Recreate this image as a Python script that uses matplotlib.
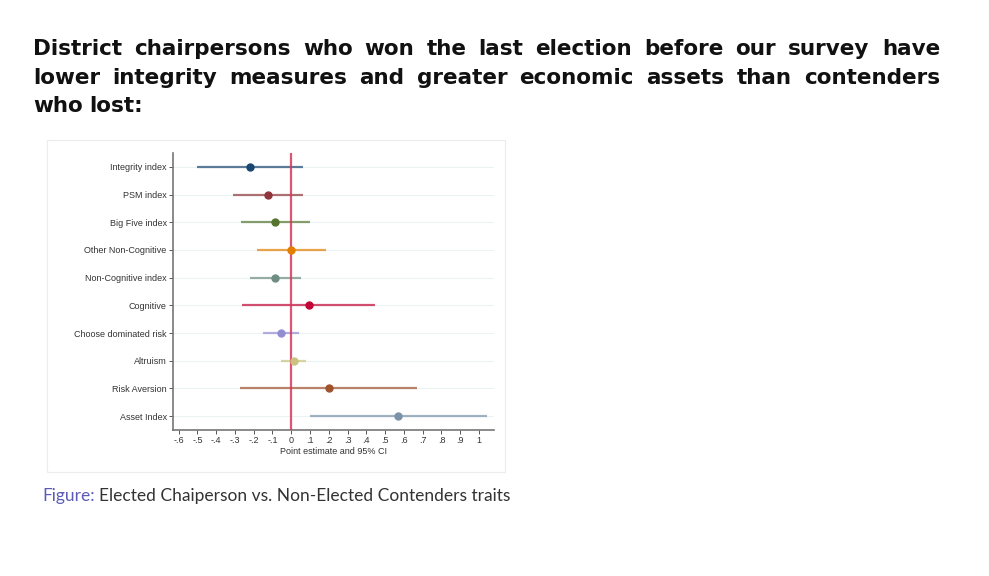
import matplotlib

matplotlib.use("Agg")
import matplotlib.pyplot as plt
from matplotlib.patches import Rectangle

# --- data ---
labels = [
    "Integrity index", "PSM index", "Big Five index", "Other Non-Cognitive",
    "Non-Cognitive index", "Cognitive", "Choose dominated risk", "Altruism",
    "Risk Aversion", "Asset Index",
]
estimates = [-0.22, -0.125, -0.085, 0.0, -0.085, 0.093, -0.056, 0.013, 0.20, 0.568]
ci_low = [-0.50, -0.31, -0.27, -0.185, -0.22, -0.26, -0.153, -0.056, -0.274, 0.098]
ci_high = [0.063, 0.063, 0.098, 0.184, 0.054, 0.446, 0.042, 0.081, 0.671, 1.044]
colors = ["#1a476f", "#90353b", "#55752f", "#e37e00", "#6e8e84",
          "#c10534", "#938dd2", "#cac27e", "#a0522d", "#7b92a8"]
xticks = [-0.6, -0.5, -0.4, -0.3, -0.2, -0.1, 0, 0.1, 0.2, 0.3, 0.4, 0.5, 0.6, 0.7, 0.8, 0.9, 1]
xtick_labels = ["-.6", "-.5", "-.4", "-.3", "-.2", "-.1", "0", ".1", ".2", ".3",
                ".4", ".5", ".6", ".7", ".8", ".9", "1"]

W, H = 989, 576
fig = plt.figure(figsize=(W / 100, H / 100), dpi=100)
fig.patch.set_facecolor("white")

# light frame around the embedded graph
fig.patches.append(Rectangle((47 / W, 1 - 472 / H), 458 / W, 332 / H,
                             transform=fig.transFigure, fill=False,
                             edgecolor="#ececec", linewidth=0.8))

ax = fig.add_axes([173 / W, 1 - 430 / H, 321 / W, 277 / H])
ypos = list(range(1, len(labels) + 1))
for y, est, lo, hi, c in zip(ypos, estimates, ci_low, ci_high, colors):
    ax.axhline(y, color="#eaf2f3", linewidth=0.8, zorder=0)
    ax.plot([lo, hi], [y, y], color=c, linewidth=1.6, alpha=0.7, zorder=2,
            solid_capstyle="butt")
    ax.plot(est, y, "o", color=c, markersize=5, zorder=4)
ax.axvline(0, color="#d6385a", linewidth=1.6, alpha=0.85, zorder=3)

ax.set_ylim(10.5, 0.5)
ax.set_xlim(-0.63, 1.08)
ax.set_yticks(ypos)
ax.set_yticklabels(labels)
ax.set_xticks(xticks)
ax.set_xticklabels(xtick_labels)
ax.set_xlabel("Point estimate and 95% CI", fontsize=6.5, labelpad=1, color="#333333",
              family="Liberation Sans")
ax.tick_params(axis="both", labelsize=6.5, length=3, width=0.7, color="#555555",
               labelcolor="#333333", pad=1.5)
for lab in ax.get_xticklabels() + ax.get_yticklabels():
    lab.set_family("Liberation Sans")
for side in ("top", "right"):
    ax.spines[side].set_visible(False)
for side in ("left", "bottom"):
    ax.spines[side].set_color("#777777")
    ax.spines[side].set_linewidth(1.2)
ax.set_facecolor("white")

# --- title, justified lines ---
title_lines = [
    "District chairpersons who won the last election before our survey have",
    "lower integrity measures and greater economic assets than contenders",
    "who lost:",
]
baselines = [55, 84, 112]
x0, x1 = 33, 940
fig.canvas.draw()
renderer = fig.canvas.get_renderer()
for i, (line, yb) in enumerate(zip(title_lines, baselines)):
    words = line.split()
    arts = [fig.text(0, 1 - yb / H, w, fontsize=15.5, fontweight="bold",
                     family="DejaVu Sans", va="baseline", color="#111111")
            for w in words]
    widths = [a.get_window_extent(renderer).width for a in arts]
    if i < len(title_lines) - 1:
        gap = (x1 - x0 - sum(widths)) / (len(words) - 1)
    else:
        gap = arts[0].get_fontsize() * 0.4
    x = x0
    for a, w in zip(arts, widths):
        a.set_x(x / W)
        x += w + gap

# --- caption ---
cap1 = fig.text(42 / W, 1 - 501 / H, "Figure:", fontsize=12.5, family="Lato",
                color="#5b5bb5", va="baseline")
bb = cap1.get_window_extent(renderer)
fig.text((bb.x1 + 4) / W, 1 - 501 / H, "Elected Chaiperson vs. Non-Elected Contenders traits",
         fontsize=12.5, family="Lato", color="#333333", va="baseline")

fig.savefig("out.png", dpi=100)
